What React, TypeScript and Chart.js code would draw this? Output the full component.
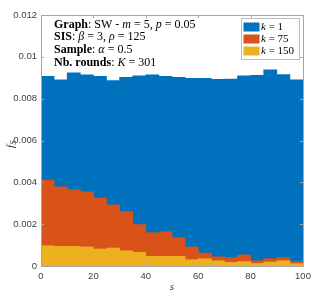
import React, { useEffect, useRef } from "react";
import { Chart, registerables } from "chart.js";

Chart.register(...registerables);

const binCenters = [2.5, 7.5, 12.5, 17.5, 22.5, 27.5, 32.5, 37.5, 42.5, 47.5, 52.5, 57.5, 62.5, 67.5, 72.5, 77.5, 82.5, 87.5, 92.5, 97.5];
const seriesK1 = [0.00907, 0.00890, 0.00923, 0.00914, 0.00907, 0.00887, 0.00902, 0.00909, 0.00914, 0.00907, 0.00902, 0.00897, 0.00897, 0.00892, 0.00894, 0.00909, 0.00912, 0.00938, 0.00915, 0.00890];
const seriesK75 = [0.00411, 0.00379, 0.00365, 0.00355, 0.00325, 0.00292, 0.00260, 0.00198, 0.00159, 0.00164, 0.00135, 0.00091, 0.00062, 0.00044, 0.00040, 0.00053, 0.00025, 0.00035, 0.00040, 0.00021];
const seriesK150 = [0.00097, 0.00094, 0.00094, 0.00091, 0.00081, 0.00086, 0.00073, 0.00065, 0.00046, 0.00046, 0.00046, 0.00030, 0.00035, 0.00025, 0.00017, 0.00021, 0.00012, 0.00019, 0.00025, 0.00011];
const seriesNames = ["1", "75", "150"];
const seriesColors = ["#0072BD", "#D95319", "#EDB120"];
const xTicks = [0, 20, 40, 60, 80, 100];
const yTicks = [0, 0.002, 0.004, 0.006, 0.008, 0.01, 0.012];

type Seg = [string, "b" | "n" | "i"];
const annotationLines: Seg[][] = [
  [["Graph", "b"], [": SW - ", "n"], ["m", "i"], [" = 5, ", "n"], ["p", "i"], [" = 0.05", "n"]],
  [["SIS", "b"], [": ", "n"], ["β", "i"], [" = 3, ", "n"], ["ρ", "i"], [" = 125", "n"]],
  [["Sample", "b"], [": ", "n"], ["α", "i"], [" = 0.5", "n"]],
  [["Nb. rounds", "b"], [": ", "n"], ["K", "i"], [" = 301", "n"]],
];

const SERIF = '"Liberation Serif", "DejaVu Serif", serif';
const AXIS_COLOR = "#a6a6a6";

function fontFor(style: string, size: number) {
  if (style === "b") return `bold ${size}px ${SERIF}`;
  if (style === "i") return `italic ${size}px ${SERIF}`;
  return `${size}px ${SERIF}`;
}

function drawRich(ctx: CanvasRenderingContext2D, segs: Seg[], x: number, y: number, size: number) {
  let cx = x;
  for (const [t, s] of segs) {
    ctx.font = fontFor(s, size);
    ctx.fillText(t, cx, y);
    cx += ctx.measureText(t).width;
  }
}

const decorPlugin = {
  id: "decor",
  afterDraw(chart: any) {
    const ctx: CanvasRenderingContext2D = chart.ctx;
    const { left, right, top, bottom } = chart.chartArea;
    const xs = chart.scales.x;
    const ys = chart.scales.y;
    ctx.save();
    ctx.strokeStyle = AXIS_COLOR;
    ctx.lineWidth = 1;
    ctx.strokeRect(Math.round(left) + 0.5, Math.round(top) + 0.5, Math.round(right - left), Math.round(bottom - top));
    ctx.beginPath();
    for (const v of xTicks) {
      const px = Math.round(xs.getPixelForValue(v)) + 0.5;
      ctx.moveTo(px, bottom);
      ctx.lineTo(px, bottom - 3);
      ctx.moveTo(px, top);
      ctx.lineTo(px, top + 3);
    }
    for (const v of yTicks) {
      const py = Math.round(ys.getPixelForValue(v)) + 0.5;
      ctx.moveTo(left, py);
      ctx.lineTo(left + 3, py);
      ctx.moveTo(right, py);
      ctx.lineTo(right - 3, py);
    }
    ctx.stroke();

    ctx.fillStyle = "#000";
    ctx.textBaseline = "middle";
    ctx.textAlign = "left";
    const lineYs = [24.5, 37, 50, 62.5];
    annotationLines.forEach((segs, i) => drawRich(ctx, segs, 54, lineYs[i], 12));

    const lx = 241.5, ly = 18.5, lw = 58, lh = 41;
    ctx.fillStyle = "#fff";
    ctx.fillRect(lx, ly, lw, lh);
    ctx.strokeStyle = "#bdbdbd";
    ctx.strokeRect(lx, ly, lw, lh);
    seriesNames.forEach((name, i) => {
      const ry = 22.5 + i * 12;
      ctx.fillStyle = seriesColors[i];
      ctx.fillRect(243.5, ry, 16, 9);
      ctx.fillStyle = "#000";
      drawRich(ctx, [["k", "i"], [" = " + name, "n"]], 261, ry + 4.8, 11);
    });

    ctx.fillStyle = "#333";
    ctx.font = `italic 11px ${SERIF}`;
    ctx.textAlign = "center";
    ctx.fillText("s", 172, 287);
    ctx.translate(11, 142);
    ctx.rotate(-Math.PI / 2);
    ctx.textAlign = "left";
    ctx.font = `italic 11px ${SERIF}`;
    const fw = ctx.measureText("f").width;
    ctx.fillText("f", -6, 0);
    ctx.font = `italic 8px ${SERIF}`;
    ctx.fillText("S", -6 + fw + 0.5, 3);
    ctx.restore();
  },
};

export default function App() {
  const ref = useRef<HTMLCanvasElement>(null);
  useEffect(() => {
    document.body.style.margin = "0";
    const canvas = ref.current!;
    const mk = (vals: number[]) => vals.map((v, i) => ({ x: binCenters[i], y: v }));
    const chart = new Chart(canvas, {
      type: "bar",
      data: {
        datasets: [
          { label: "k = " + seriesNames[0], data: mk(seriesK1), backgroundColor: seriesColors[0], order: 3 },
          { label: "k = " + seriesNames[1], data: mk(seriesK75), backgroundColor: seriesColors[1], order: 2 },
          { label: "k = " + seriesNames[2], data: mk(seriesK150), backgroundColor: seriesColors[2], order: 1 },
        ] as any,
      },
      options: {
        animation: false,
        responsive: false,
        devicePixelRatio: 1,
        layout: { padding: { left: 0, right: 16, top: 15, bottom: 0 } },
        datasets: {
          bar: { grouped: false, barPercentage: 1, categoryPercentage: 1, borderWidth: 0 } as any,
        },
        plugins: { legend: { display: false }, tooltip: { enabled: false } },
        scales: {
          x: {
            type: "linear",
            min: 0,
            max: 100,
            offset: false,
            grid: { display: false, drawTicks: false },
            border: { display: false },
            afterBuildTicks: (s: any) => { s.ticks = xTicks.map((v) => ({ value: v })); },
            afterFit: (s: any) => { s.height = 27; },
            ticks: { color: "#404040", font: { size: 9.5, family: '"Liberation Sans", Arial, sans-serif' }, padding: 5, maxRotation: 0 },
          },
          y: {
            type: "linear",
            min: 0,
            max: 0.012,
            grid: { display: false, drawTicks: false },
            border: { display: false },
            afterBuildTicks: (s: any) => { s.ticks = yTicks.map((v) => ({ value: v })); },
            afterFit: (s: any) => { s.width = 41; },
            ticks: {
              color: "#404040",
              font: { size: 9.5, family: '"Liberation Sans", Arial, sans-serif' },
              padding: 4,
              callback: (v: any) => String(Number(v)),
            },
          },
        },
      },
      plugins: [decorPlugin],
    });
    return () => chart.destroy();
  }, []);
  return (
    <div style={{ width: 319, height: 293, background: "#fff" }}>
      <canvas ref={ref} width={319} height={293} style={{ display: "block" }} />
    </div>
  );
}
